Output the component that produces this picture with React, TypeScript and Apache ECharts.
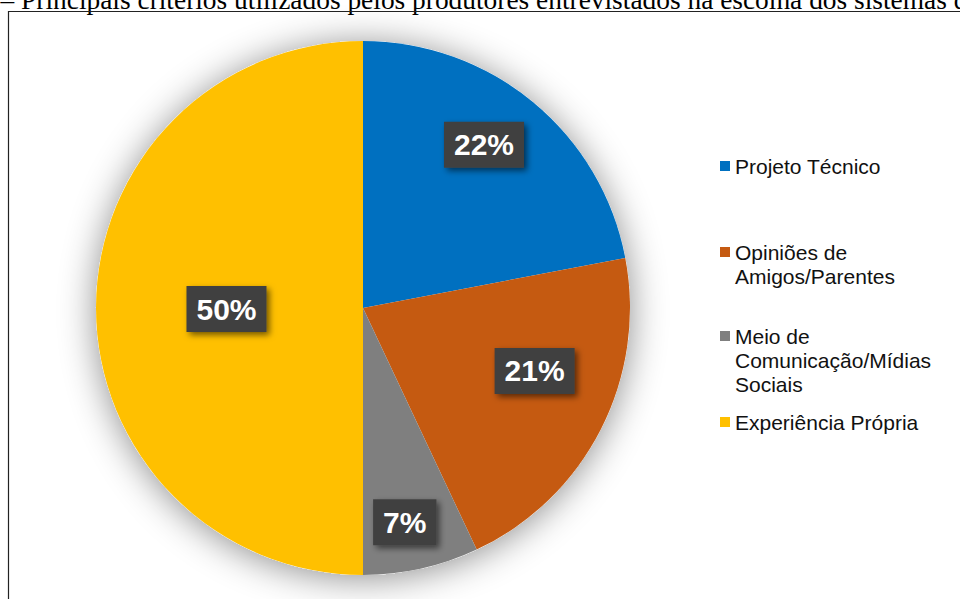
import React, { useEffect, useRef } from "react";
import * as echarts from "echarts";

const titleText =
  "7 – Principais critérios utilizados pelos produtores entrevistados na escolha dos sistemas de produção";
const categories = [
  "Projeto Técnico",
  "Opiniões de\nAmigos/Parentes",
  "Meio de\nComunicação/Mídias\nSociais",
  "Experiência Própria",
];
const values = [22, 21, 7, 50];
const colors = ["#0070C0", "#C55A11", "#7F7F7F", "#FFC000"];
// label nudges away from the default "inside" position (Excel best-fit look)
const labelNudgeX = [34, 50, 12, 0];
const labelNudgeY = [-58, 1, 81, 1];
// legend item tops
const legendTops = [154, 216, 276, 410];

export default function App() {
  const ref = useRef<HTMLDivElement>(null);
  useEffect(() => {
    if (!ref.current) return;
    const chart = echarts.init(ref.current, null, { renderer: "svg" });
    const font = '"Liberation Sans", Arial, sans-serif';
    const lh = 24;
    const legends = categories.map((name, i) => {
      const n = name.split("\n").length;
      return {
        data: [name],
        orient: "vertical",
        left: 720,
        top: legendTops[i],
        padding: 0,
        itemWidth: 10,
        itemHeight: 10,
        itemGap: 0,
        icon: "rect",
        selectedMode: false,
        formatter: (nm: string) => "\n".repeat(n - 1) + nm,
        textStyle: {
          fontFamily: font,
          fontSize: 21,
          lineHeight: lh,
          color: "#111",
        },
      };
    });
    chart.setOption({
      animation: false,
      backgroundColor: "#ffffff",
      color: colors,
      legend: legends,
      graphic: [
        {
          type: "text",
          x: -20,
          y: 0,
          style: {
            text: titleText,
            font: '27.4px "Liberation Serif", "Times New Roman", serif',
            fill: "#000",
            verticalAlign: "middle",
          },
        },
        {
          type: "rect",
          shape: { x: 8.5, y: 11.5, width: 1000, height: 1000 },
          style: { fill: "none", stroke: "#222", lineWidth: 1.2 },
        },
      ],
      series: [
        {
          type: "pie",
          silent: true,
          center: [363, 308],
          radius: 267,
          z: 1,
          label: { show: false },
          labelLine: { show: false },
          itemStyle: {
            color: "#ffffff",
            shadowBlur: 36,
            shadowOffsetY: 3,
            shadowColor: "rgba(0,0,0,0.45)",
          },
          data: [{ name: "", value: 1 }],
        },
        {
          type: "pie",
          center: [363, 308],
          radius: 267,
          z: 2,
          startAngle: 90,
          clockwise: true,
          avoidLabelOverlap: false,
          labelLine: { show: false },
          itemStyle: { borderWidth: 0 },
          label: {
            show: true,
            position: "inside",
            formatter: "{c}%",
            fontFamily: font,
            fontSize: 30,
            fontWeight: "bold",
            lineHeight: 30,
            color: "#ffffff",
            backgroundColor: "#404040",
            padding: [8, 10],
            shadowBlur: 6,
            shadowOffsetX: 3,
            shadowOffsetY: 3,
            shadowColor: "rgba(0,0,0,0.55)",
          },
          labelLayout: (p: any) => ({
            dx: labelNudgeX[p.dataIndex],
            dy: labelNudgeY[p.dataIndex],
          }),
          data: categories.map((name, i) => ({ name, value: values[i] })),
        },
      ],
    });
    return () => chart.dispose();
  }, []);
  return (
    <div
      ref={ref}
      style={{ position: "absolute", left: 0, top: 0, width: 960, height: 599 }}
    />
  );
}
